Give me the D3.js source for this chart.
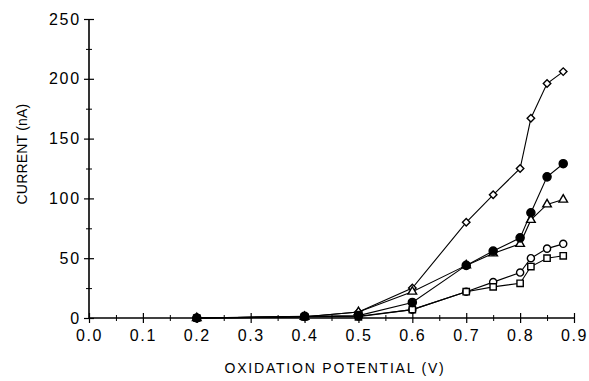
<!DOCTYPE html>
<html>
<head>
<meta charset="utf-8">
<script src="https://cdn.jsdelivr.net/npm/d3@7"></script>
<style>
  body { margin: 0; background: #fff; }
  .tick text { font-family: "Liberation Sans", Arial, sans-serif; }
</style>
</head>
<body>
<div class="chart"></div>
<script>
// Oxidation potential (V) for every measured point
const potentials = [0.2, 0.4, 0.5, 0.6, 0.7, 0.75, 0.8, 0.82, 0.85, 0.88];

// Current (nA)
const diamondCurrent = [0, 1, 5, 25, 80, 103, 125, 167, 196, 206];
const triangleCurrent = [0, 1, 5, 22, 44, 54, 62, 82, 95, 99];
const openCircleCurrent = [0, 1, 1.5, 7, 22, 30, 38, 50, 58, 62];
const squareCurrent = [0, 1, 1, 7, 22, 26, 29, 43, 50, 52];
const filledCircleCurrent = [0, 1.5, 2, 13, 44, 56, 67, 88, 118, 129];

const xTicks = [0, 0.1, 0.2, 0.3, 0.4, 0.5, 0.6, 0.7, 0.8, 0.9];
const yTicks = [0, 50, 100, 150, 200, 250];

const series = [
  { values: diamondCurrent, symbol: d3.symbolSquare, size: 28, rotate: 45, fill: "#fff" },
  { values: triangleCurrent, symbol: d3.symbolTriangle, size: 32, rotate: 0, fill: "#fff" },
  { values: openCircleCurrent, symbol: d3.symbolCircle, size: 40, rotate: 0, fill: "#fff" },
  { values: squareCurrent, symbol: d3.symbolSquare, size: 40, rotate: 0, fill: "#fff" },
  { values: filledCircleCurrent, symbol: d3.symbolCircle, size: 52, rotate: 0, fill: "#000" }
];

function setupChart() {
  const width = 589;
  const height = 381;
  const margin = { top: 19, right: 15, bottom: 63, left: 89 };

  const x = d3.scaleLinear().domain([0, 0.9]).range([margin.left, 574]);
  const y = d3.scaleLinear().domain([0, 250]).range([height - margin.bottom, margin.top]);

  const svg = d3.select(".chart")
    .append("svg")
    .attr("width", width)
    .attr("height", height);

  return { svg, x, y, width, height, margin };
}

function drawAxes(chart) {
  const { svg, x, y } = chart;
  const font = "Liberation Sans, Arial, sans-serif";

  // minor ticks first, major ticks on top
  const xMinor = svg.append("g")
    .attr("transform", `translate(0, ${y(0)})`)
    .call(d3.axisBottom(x).tickValues(d3.range(0.05, 0.9, 0.1)).tickSize(3).tickFormat(""));
  xMinor.selectAll(".tick line").attr("y1", -3);
  xMinor.select(".domain").remove();

  const yMinor = svg.append("g")
    .attr("transform", `translate(${x(0)}, 0)`)
    .call(d3.axisLeft(y).tickValues([25, 75, 125, 175, 225]).tickSize(3).tickFormat(""));
  yMinor.selectAll(".tick line").attr("x1", 3);
  yMinor.select(".domain").remove();

  const xAxis = svg.append("g")
    .attr("transform", `translate(0, ${y(0)})`)
    .call(d3.axisBottom(x).tickValues(xTicks).tickSize(5).tickPadding(7).tickFormat(d3.format(".1f")));
  xAxis.selectAll(".tick line").attr("y1", -5).attr("stroke-width", 1.2);
  xAxis.select(".domain").attr("d", `M${x(0)},0H${x(0.9)}`).attr("stroke-width", 1.6);
  xAxis.selectAll(".tick text")
    .style("font-size", "16px").style("letter-spacing", "1.6px")
    .attr("fill", "#000");

  const yAxis = svg.append("g")
    .attr("transform", `translate(${x(0)}, 0)`)
    .call(d3.axisLeft(y).tickValues(yTicks).tickSize(5).tickPadding(3));
  yAxis.selectAll(".tick line").attr("x1", 5).attr("stroke-width", 1.2);
  yAxis.select(".domain").attr("d", `M0,${y(0)}V${y(250)}`).attr("stroke-width", 1.6);
  yAxis.selectAll(".tick text")
    .style("font-size", "16px").style("letter-spacing", "1.8px")
    .attr("fill", "#000");

  svg.append("text")
    .attr("x", 335)
    .attr("y", 373)
    .attr("text-anchor", "middle")
    .style("font-family", font)
    .style("font-size", "14px")
    .style("letter-spacing", "1.8px")
    .text("OXIDATION POTENTIAL (V)");

  svg.append("text")
    .attr("transform", `translate(27, 154) rotate(-90)`)
    .attr("text-anchor", "middle")
    .style("font-family", font)
    .style("font-size", "14px")
    .style("letter-spacing", "0.2px")
    .text("CURRENT (nA)");
}

function drawSeries(chart) {
  const { svg, x, y } = chart;
  const line = d3.line()
    .x((d, i) => x(potentials[i]))
    .y(d => y(d));

  series.forEach(s => {
    svg.append("path")
      .datum(s.values)
      .attr("d", line)
      .attr("fill", "none")
      .attr("stroke", "#000")
      .attr("stroke-width", 1.1);
  });

  series.forEach(s => {
    const shape = d3.symbol().type(s.symbol).size(s.size);
    svg.append("g").selectAll("path")
      .data(s.values)
      .enter().append("path")
        .attr("d", shape)
        .attr("transform", (d, i) => `translate(${x(potentials[i])}, ${y(d)}) rotate(${s.rotate})`)
        .attr("fill", s.fill)
        .attr("stroke", "#000")
        .attr("stroke-width", 1.4);
  });
}

const chart = setupChart();
drawAxes(chart);
drawSeries(chart);
</script>
</body>
</html>
